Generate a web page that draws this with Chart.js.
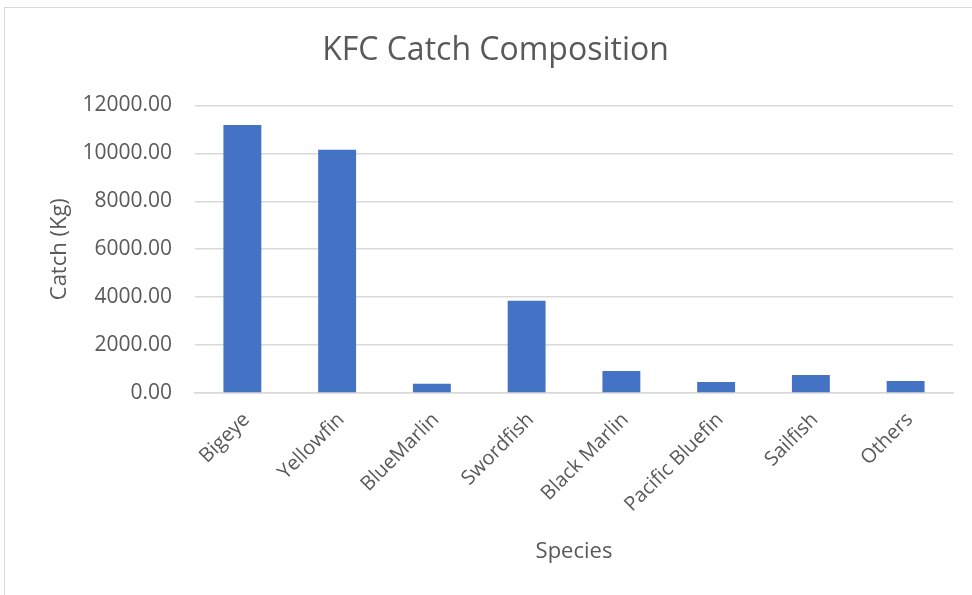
<!DOCTYPE html>
<html lang="en">
<head>
    <meta charset="UTF-8">
    <title>KFC Catch Composition</title>
    <script src="https://cdn.jsdelivr.net/npm/chart.js"></script>
    <style>
        html, body { margin: 0; padding: 0; background: #fff; }
        .frame {
            position: absolute; left: 4px; top: 7px; width: 980px; height: 600px;
            border: 1px solid #d9d9d9; box-sizing: border-box;
        }
        .chart-box { position: absolute; left: 0; top: 0; width: 972px; height: 595px; }
    </style>
</head>
<body>
    <div class="frame"></div>
    <div class="chart-box">
        <canvas id="catchChart" width="972" height="595"></canvas>
    </div>
    <script>
        // Data
        const species = ['Bigeye', 'Yellowfin', 'BlueMarlin', 'Swordfish', 'Black Marlin', 'Pacific Bluefin', 'Sailfish', 'Others'];
        const catchKg = [11180, 10150, 390, 3850, 920, 460, 750, 500];
        const yTicks = [0, 2000, 4000, 6000, 8000, 10000, 12000];

        const grey = '#595959';
        const font = "'Open Sans', sans-serif";

        const ctx = document.getElementById('catchChart').getContext('2d');
        new Chart(ctx, {
            type: 'bar',
            data: {
                labels: species,
                datasets: [{
                    label: 'Catch (Kg)',
                    data: catchKg,
                    backgroundColor: '#4472C4',
                    barPercentage: 0.4,
                    categoryPercentage: 1.0
                }]
            },
            options: {
                responsive: false,
                animation: false,
                layout: { padding: { left: 38, right: 19, top: 0, bottom: 0 } },
                plugins: {
                    legend: { display: false },
                    tooltip: { enabled: false },
                    title: {
                        display: true,
                        text: 'KFC Catch Composition',
                        color: grey,
                        font: { family: font, size: 32, weight: 'normal' },
                        padding: { top: 32, bottom: 35 }
                    }
                },
                scales: {
                    x: {
                        afterFit: axis => { axis.height = 202; },
                        grid: { display: false, drawTicks: false },
                        border: { color: '#d9d9d9', width: 1.5 },
                        ticks: {
                            color: grey,
                            font: { family: font, size: 20 },
                            maxRotation: 45, minRotation: 45,
                            labelOffset: 4,
                            padding: 15
                        },
                        title: {
                            display: true, text: 'Species', color: grey,
                            font: { family: font, size: 22 },
                            padding: { top: 0, bottom: 30 }
                        }
                    },
                    y: {
                        min: 0, max: 12000,
                        afterBuildTicks: axis => { axis.ticks = yTicks.map(v => ({ value: v })); },
                        afterFit: axis => { axis.width = 157; },
                        grid: { color: '#d9d9d9', lineWidth: 1.5, drawTicks: false },
                        border: { display: false },
                        ticks: {
                            color: grey,
                            font: { family: font, size: 21 },
                            padding: 23,
                            callback: v => Number(v).toFixed(2)
                        },
                        title: {
                            display: true, text: 'Catch (Kg)', color: grey,
                            font: { family: font, size: 22 },
                            padding: { top: 9, bottom: 0 }
                        }
                    }
                }
            }
        });
    </script>
</body>
</html>
